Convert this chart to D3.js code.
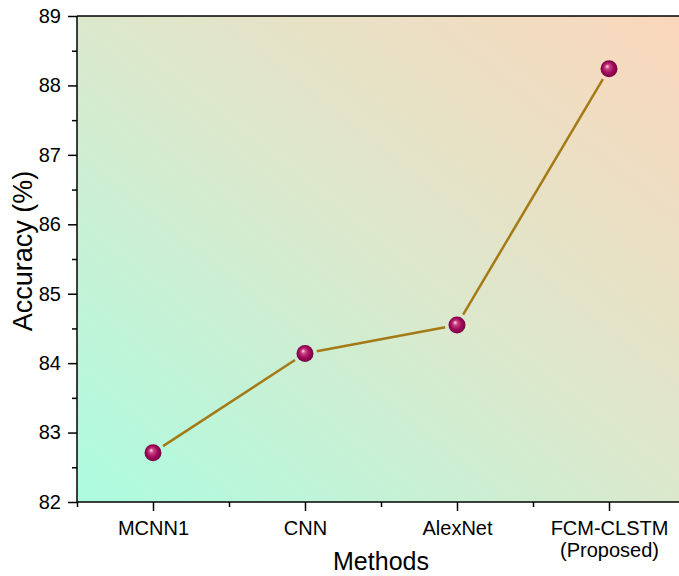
<!DOCTYPE html>
<html>
<head>
<meta charset="utf-8">
<script src="https://cdn.jsdelivr.net/npm/d3@7"></script>
<style>
  body { margin: 0; background: #fff; }
  svg { display: block; font-family: "Liberation Sans", Arial, sans-serif; }
</style>
</head>
<body>
<svg id="chart"></svg>
<script>
const METHODS = ['MCNN1', 'CNN', 'AlexNet', 'FCM-CLSTM'];
const METHOD_SUB = ['', '', '', '(Proposed)'];
const ACCURACY = [82.71, 84.14, 84.55, 88.24];
const Y_TICKS = [82, 83, 84, 85, 86, 87, 88, 89];

const SVG_WIDTH = 679;
const SVG_HEIGHT = 576;
const MARGIN = { top: 16, right: -6, bottom: 74, left: 77 };
const WIDTH = SVG_WIDTH - MARGIN.left - MARGIN.right;
const HEIGHT = SVG_HEIGHT - MARGIN.top - MARGIN.bottom;

const x = d3.scaleLinear().domain([0.5, 4.5]).range([0, WIDTH]);
const y = d3.scaleLinear().domain([82, 89]).range([HEIGHT, 0]);

const root = d3.select('#chart')
	.attr('width', SVG_WIDTH)
	.attr('height', SVG_HEIGHT);

const defs = root.append('defs');

const bg = defs.append('linearGradient')
	.attr('id', 'bg')
	.attr('x1', '0').attr('y1', '1')
	.attr('x2', '1').attr('y2', '0');
bg.append('stop').attr('offset', '0%').attr('stop-color', '#acfce0');
bg.append('stop').attr('offset', '50%').attr('stop-color', '#dbe8cc');
bg.append('stop').attr('offset', '100%').attr('stop-color', '#fbd7bc');

const ball = defs.append('radialGradient')
	.attr('id', 'ball')
	.attr('cx', '0.5').attr('cy', '0.5').attr('r', '0.55')
	.attr('fx', '0.38').attr('fy', '0.35');
ball.append('stop').attr('offset', '0%').attr('stop-color', '#ffe6f2');
ball.append('stop').attr('offset', '25%').attr('stop-color', '#c8407f');
ball.append('stop').attr('offset', '60%').attr('stop-color', '#a0085a');
ball.append('stop').attr('offset', '100%').attr('stop-color', '#6e0040');

const svg = root.append('g')
	.attr('transform', 'translate(' + MARGIN.left + ', ' + MARGIN.top + ')');

svg.append('rect')
	.attr('width', WIDTH)
	.attr('height', HEIGHT)
	.attr('fill', 'url(#bg)');

// connecting line, with gaps around markers
const pts = METHODS.map((m, i) => ({ x: x(i + 1), y: y(ACCURACY[i]) }));
const GAP = 12;
for (let i = 0; i < pts.length - 1; i++) {
	const a = pts[i], b = pts[i + 1];
	const dx = b.x - a.x, dy = b.y - a.y;
	const len = Math.sqrt(dx * dx + dy * dy);
	const ux = dx / len, uy = dy / len;
	svg.append('line')
		.attr('x1', a.x + ux * GAP).attr('y1', a.y + uy * GAP)
		.attr('x2', b.x - ux * GAP).attr('y2', b.y - uy * GAP)
		.attr('stroke', '#a47a16')
		.attr('stroke-width', 2.5);
}

svg.selectAll('.pt')
	.data(ACCURACY)
	.enter()
	.append('circle')
		.attr('class', 'pt')
		.attr('cx', (d, i) => x(i + 1))
		.attr('cy', d => y(d))
		.attr('r', 8.5)
		.attr('fill', 'url(#ball)');

// frame
svg.append('line').attr('x1', 0).attr('x2', WIDTH).attr('y1', 0).attr('y2', 0)
	.attr('stroke', '#000').attr('stroke-width', 1.5);
svg.append('line').attr('x1', 0).attr('x2', 0).attr('y1', 0).attr('y2', HEIGHT)
	.attr('stroke', '#000').attr('stroke-width', 1.5);
svg.append('line').attr('x1', 0).attr('x2', WIDTH).attr('y1', HEIGHT).attr('y2', HEIGHT)
	.attr('stroke', '#000').attr('stroke-width', 1.5);

// Y-Axis
const yAxis = svg.append('g')
	.attr('class', 'axis')
	.call(d3.axisLeft(y).tickValues(Y_TICKS).tickSize(9).tickPadding(7).tickFormat(d3.format('d')));
yAxis.select('.domain').remove();
yAxis.selectAll('text').style('font-size', '20px').attr('fill', '#000');
yAxis.selectAll('line').attr('stroke-width', 1.5);

svg.append('g')
	.call(d3.axisLeft(y).tickValues(Y_TICKS.slice(0, -1).map(v => v + 0.5)).tickSize(5).tickFormat(''))
	.call(g => g.select('.domain').remove())
	.selectAll('line').attr('stroke-width', 1.5);

svg.append('text')
	.attr('transform', 'rotate(-90)')
	.attr('x', -(251 - MARGIN.top))
	.attr('y', 32 - MARGIN.left)
	.style('text-anchor', 'middle')
	.style('font-size', '27px')
	.text('Accuracy (%)');

// X-Axis
const xAxis = svg.append('g')
	.attr('transform', 'translate(0, ' + HEIGHT + ')')
	.call(d3.axisBottom(x).tickValues([1, 2, 3, 4]).tickSize(9).tickPadding(10).tickFormat((d, i) => METHODS[i]));
xAxis.select('.domain').remove();
xAxis.selectAll('line').attr('stroke-width', 1.5);
xAxis.selectAll('text').style('font-size', '20px').attr('fill', '#000');
xAxis.selectAll('.tick')
	.append('text')
	.attr('y', 41)
	.attr('dy', '0.71em')
	.attr('fill', '#000')
	.style('font-size', '20px')
	.text((d, i) => METHOD_SUB[i]);

svg.append('g')
	.attr('transform', 'translate(0, ' + HEIGHT + ')')
	.call(d3.axisBottom(x).tickValues([0.5, 1.5, 2.5, 3.5]).tickSize(5).tickFormat(''))
	.call(g => g.select('.domain').remove())
	.selectAll('line').attr('stroke-width', 1.5);

svg.append('text')
	.attr('x', 381)
	.attr('y', 570 - MARGIN.top)
	.attr('transform', 'translate(' + (-MARGIN.left) + ', 0)')
	.style('text-anchor', 'middle')
	.style('font-size', '25px')
	.text('Methods');
</script>
</body>
</html>
